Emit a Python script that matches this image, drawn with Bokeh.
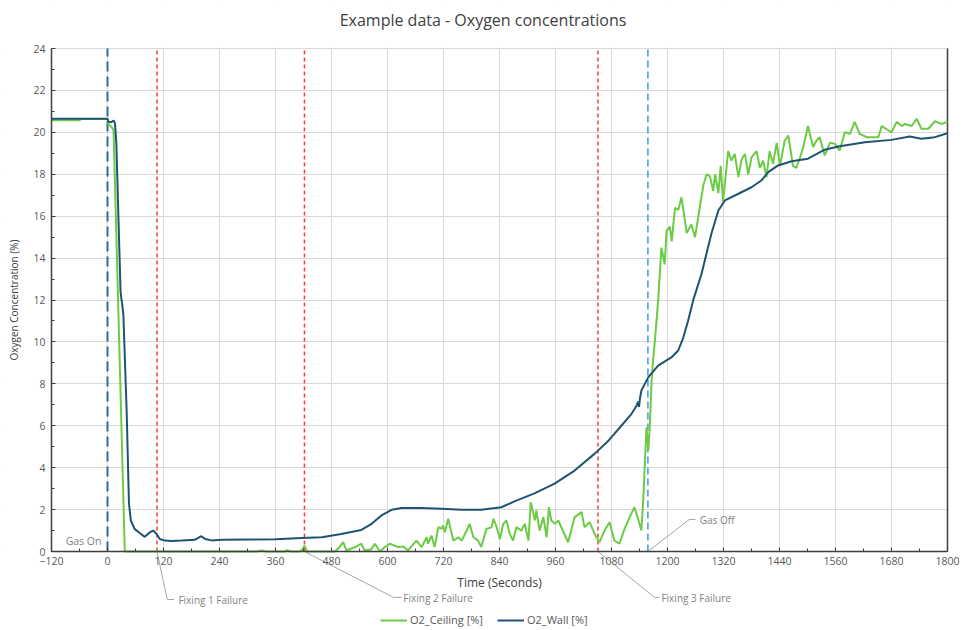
from bokeh.plotting import figure
from bokeh.models import Range1d, Label, Legend, LegendItem, SingleIntervalTicker
from bokeh.embed import file_html
from bokeh.resources import INLINE

# ---------------- data ----------------
wall_t = [-120, 0, 2, 8, 13, 16, 19, 23, 28, 30, 31, 34, 41, 46, 50, 58, 69, 80,
          91, 98, 105, 112, 123, 137, 159, 187, 201, 209, 223, 244, 300, 360,
          416, 459, 501, 544, 566, 587, 609, 630, 673, 716, 759, 801, 844, 872,
          915, 958, 1001, 1044, 1074, 1101, 1123, 1134, 1137, 1139, 1141, 1144,
          1159, 1180, 1209, 1223, 1234, 1244, 1255, 1273, 1294, 1309, 1323,
          1352, 1380, 1401, 1416, 1437, 1466, 1501, 1537, 1566, 1623, 1680,
          1719, 1744, 1773, 1800]
wall_v = [20.65, 20.65, 20.5, 20.48, 20.56, 20.45, 19.45, 16.27, 12.4, 12.0,
          11.9, 11.3, 6.73, 2.29, 1.48, 1.08, 0.88, 0.7, 0.92, 1.0, 0.84, 0.6,
          0.52, 0.5, 0.52, 0.56, 0.73, 0.6, 0.53, 0.56, 0.57, 0.58, 0.64, 0.68,
          0.84, 1.03, 1.32, 1.72, 1.99, 2.08, 2.08, 2.04, 1.99, 1.99, 2.11,
          2.39, 2.77, 3.24, 3.86, 4.67, 5.3, 6.0, 6.57, 6.97, 7.15, 6.9, 7.3,
          7.68, 8.32, 8.87, 9.27, 9.59, 10.22, 11.0, 11.98, 13.25, 15.16, 16.27,
          16.75, 17.07, 17.38, 17.7, 18.1, 18.42, 18.62, 18.74, 19.17, 19.32,
          19.53, 19.64, 19.8, 19.69, 19.77, 19.96]

ceil_t = [-120, -60, -55, 0, 2, 9, 13, 37, 320, 330, 340, 380, 385, 392, 412,
          418, 422, 428, 487, 495, 505, 512, 530, 544, 551, 565, 573, 584,
          594, 605, 623, 634, 644, 662, 673, 684, 687, 694, 701, 709, 716, 719,
          723, 730, 737, 741, 752, 759, 773, 776, 784, 794, 801, 812, 823, 827,
          834, 841, 848, 855, 862, 869, 876, 887, 894, 902, 907, 916, 919, 926,
          934, 941, 946, 951, 959, 966, 987, 1001, 1016, 1022, 1033, 1044,
          1054, 1065, 1076, 1086, 1097, 1108, 1119, 1129, 1138, 1144, 1148,
          1155, 1159, 1162, 1166, 1169, 1173, 1180, 1187, 1194, 1198, 1205,
          1209, 1216, 1223, 1230, 1234, 1241, 1251, 1259, 1269, 1277, 1284,
          1291, 1298, 1302, 1309, 1314, 1319, 1330, 1337, 1344, 1352, 1359,
          1366, 1373, 1380, 1391, 1398, 1405, 1412, 1419, 1426, 1434, 1441,
          1451, 1459, 1469, 1476, 1484, 1491, 1501, 1512, 1519, 1526, 1537,
          1548, 1559, 1569, 1580, 1591, 1601, 1612, 1627, 1652, 1659, 1673,
          1680, 1691, 1702, 1709, 1723, 1734, 1744, 1759, 1773, 1787, 1800]
ceil_v = [20.58, 20.58, 20.64, 20.64, 20.4, 20.24, 20.1, 0.0, 0.0, 0.05, 0.0,
          0.0, 0.06, 0.0, 0.0, 0.1, 0.28, 0.0, 0.0, 0.15, 0.45, 0.05, 0.2,
          0.37, 0.05, 0.1, 0.37, 0.0,
          0.21, 0.37, 0.21, 0.24, 0.05, 0.52, 0.21, 0.68, 0.37, 0.76, 0.21,
          1.16, 1.08, 1.24, 0.92, 1.56, 0.92, 0.52, 0.68, 0.52, 1.16, 1.32,
          0.68, 0.52, 0.21, 1.08, 1.16, 1.56, 1.16, 0.6, 1.32, 1.48, 0.84,
          0.52, 1.16, 1.0, 1.32, 0.52, 2.35, 1.48, 1.96, 1.0, 1.64, 0.68, 2.11,
          1.48, 1.32, 1.48, 0.44, 1.64, 1.88, 1.16, 1.4, 0.84, 0.44, 1.0, 1.4,
          0.52, 0.37, 1.08, 1.64, 2.11, 1.48, 1.0, 2.43, 5.93, 4.82, 5.93,
          8.16, 9.1, 10.07, 11.98, 14.5, 13.7, 15.3, 15.5, 14.8, 16.4, 16.3,
          16.9, 16.3, 15.2, 15.6, 15.0, 16.4, 17.5, 18.0, 17.9, 17.2, 18.0,
          17.1, 18.4, 16.7, 19.1, 18.65, 18.97, 17.86, 18.73, 18.97, 18.0,
          18.8, 19.1, 18.3, 18.65, 17.86, 19.1, 18.5, 19.5, 18.4, 19.6, 19.85,
          18.4, 18.3, 18.8, 19.3, 20.3, 19.3, 19.6, 19.77, 18.9, 19.5, 19.45,
          19.13, 20.0, 19.93, 20.5, 19.93, 19.77, 19.77, 20.3, 20.1, 20.0,
          20.5, 20.3, 20.4, 20.3, 20.65, 20.17, 20.17, 20.53, 20.4, 20.5]

event_names = ["Gas On", "Fixing 1 Failure", "Fixing 2 Failure",
               "Fixing 3 Failure", "Gas Off"]
event_times = [0, 106, 422, 1051, 1158]

X_MIN, X_MAX = -120, 1800
Y_MIN, Y_MAX = 0, 24

# ---------------- layout (pixels) ----------------
W, H = 964, 630
PL, PR, PT, PB = 51, 947, 48, 551          # plot-area box on the canvas
sx = (PR - PL) / (X_MAX - X_MIN)           # px per second
sy = (PB - PT) / (Y_MAX - Y_MIN)           # px per percent
x_lo = X_MIN - PL / sx
x_hi = X_MAX + (W - PR) / sx
y_lo = Y_MIN - (H - PB) / sy
y_hi = Y_MAX + PT / sy

FONT = "Open Sans"
GREEN = "#6CCB45"
BLUE = "#1E5472"
AXIS = "#3F3F3F"

p = figure(width=W, height=H, x_range=Range1d(x_lo, x_hi),
           y_range=Range1d(y_lo, y_hi), output_backend="svg",
           toolbar_location=None, min_border=0, min_border_left=0,
           min_border_right=0, min_border_top=0, min_border_bottom=0,
           background_fill_color="white", border_fill_color="white")
p.outline_line_color = None

p.xaxis.ticker = SingleIntervalTicker(interval=120, num_minor_ticks=2)
p.yaxis.ticker = SingleIntervalTicker(interval=2, num_minor_ticks=2)
p.xaxis.fixed_location = Y_MIN
p.yaxis.fixed_location = X_MIN
p.xaxis.bounds = (X_MIN, X_MAX)
p.yaxis.bounds = (Y_MIN, Y_MAX)
for ax in (p.xaxis, p.yaxis):
    ax.axis_line_color = AXIS
    ax.axis_line_width = 1.5
    ax.major_tick_line_color = AXIS
    ax.minor_tick_line_color = AXIS
    ax.major_tick_in = 4
    ax.major_tick_out = 0
    ax.minor_tick_in = 3
    ax.minor_tick_out = 0
    ax.major_label_text_font = FONT
    ax.major_label_text_font_size = "10.5px"
    ax.major_label_text_color = "#595959"
    ax.axis_label_text_font = FONT
    ax.axis_label_text_font_style = "normal"
    ax.axis_label_text_color = "#404040"
p.xaxis.axis_label = "Time (Seconds)"
p.xaxis.axis_label_text_font_size = "12px"
p.xaxis.major_label_standoff = 5
p.xaxis.axis_label_standoff = 6
p.yaxis.axis_label = "Oxygen Concentration (%)"
p.yaxis.axis_label_text_font_size = "10px"
p.yaxis.major_label_standoff = 6
p.yaxis.axis_label_standoff = 9

p.xgrid.ticker = p.xaxis.ticker
p.ygrid.ticker = p.yaxis.ticker
p.xgrid.bounds = (X_MIN, X_MAX)
p.ygrid.bounds = (Y_MIN, Y_MAX)
p.xgrid.grid_line_color = "#D9D9D9"
p.ygrid.grid_line_color = "#D9D9D9"

# blank everything outside the plot area (grid lines span the whole frame)
eps = 1.0 / sy
p.quad(left=[x_lo, X_MAX + 1.0 / sx, x_lo, x_lo],
       right=[X_MIN - 1.0 / sx, x_hi, x_hi, x_hi],
       bottom=[y_lo, y_lo, y_lo, Y_MAX + eps],
       top=[y_hi, y_hi, Y_MIN, y_hi],
       fill_color="white", line_color=None)

# right frame border
p.segment(x0=[X_MAX], y0=[Y_MIN], x1=[X_MAX], y1=[Y_MAX], line_color=AXIS,
          line_width=1.5)

# event lines
styles = [("#2C6D96", "10 5", 2), ("#FF3B3B", "4 3", 1.5), ("#FF3B3B", "4 3", 1.5),
          ("#FF3B3B", "4 3", 1.5), ("#3C9BE0", "7 4", 1.5)]
for t, (c, d, w) in zip(event_times, styles):
    p.segment(x0=[t], y0=[Y_MIN], x1=[t], y1=[Y_MAX], line_color=c,
              line_dash=d, line_width=w)

r_ceil = p.line(ceil_t, ceil_v, line_color=GREEN, line_width=2)
r_wall = p.line(wall_t, wall_v, line_color=BLUE, line_width=2)

# title
p.add_layout(Label(x=X_MIN + (482.5 - PL) / sx, y=Y_MAX + (PT - 19) / sy,
                   text="Example data - Oxygen concentrations", text_font=FONT,
                   text_font_size="16px", text_color="#404040",
                   text_align="center", text_baseline="middle"))

# callouts: (elbow dt, elbow v, end dt, text dt, text v)
callouts = {
    "Fixing 1 Failure": (22, -2.29, 37, 46, -2.33),
    "Fixing 2 Failure": (191, -2.19, 208, 212, -2.24),
    "Fixing 3 Failure": (121, -2.19, 132, 136, -2.24),
    "Gas Off": (89, 1.53, 102, 111, 1.48),
}
LEAD = "#A6A6A6"
TXT = "#7F7F7F"
for name, t in zip(event_names, event_times):
    if name in callouts:
        edt, ev, endt, tdt, tv = callouts[name]
        p.line([t, t + edt, t + endt], [0, ev, ev], line_color=LEAD, line_width=1)
        p.add_layout(Label(x=t + tdt, y=tv, text=name, text_font=FONT,
                           text_font_size="10px", text_color=TXT,
                           text_baseline="middle", text_align="left"))
    else:
        p.add_layout(Label(x=t - 13, y=0.52, text=name, text_font=FONT,
                           text_font_size="10.5px", text_color=TXT,
                           text_baseline="middle", text_align="right"))

legend = Legend(items=[LegendItem(label="O2_Ceiling [%]", renderers=[r_ceil]),
                       LegendItem(label="O2_Wall [%]", renderers=[r_wall])],
                orientation="horizontal", location=(380, 3),
                label_text_font=FONT, label_text_font_size="11px",
                label_text_color="#595959", glyph_width=27, glyph_height=12,
                label_height=12, padding=2, spacing=14, label_standoff=3,
                border_line_color=None, background_fill_alpha=0)
p.add_layout(legend, "center")

open("out.html", "w").write(file_html(p, INLINE))
